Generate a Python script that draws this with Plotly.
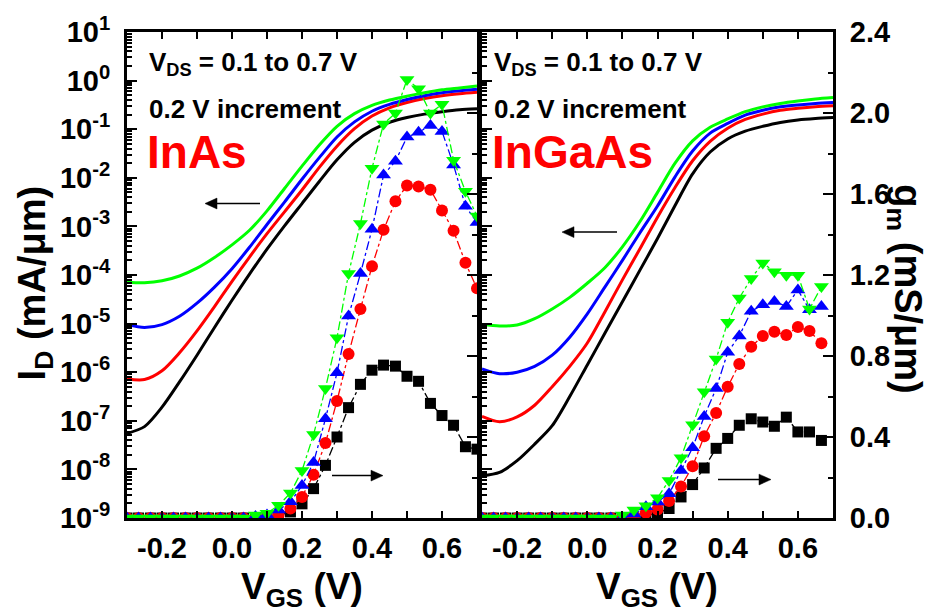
import numpy as np
import plotly.graph_objects as go

# ---------------- data ----------------
vgs = [-0.30, -0.25, -0.20, -0.15, -0.10, -0.05, 0.00, 0.05, 0.10, 0.15, 0.20,
       0.25, 0.30, 0.35, 0.40, 0.45, 0.50, 0.55, 0.60, 0.65, 0.70]

# log10(I_D [mA/um]) for VDS = 0.1, 0.3, 0.5, 0.7 V
inas_logid_01 = [-7.26, -7.12, -6.72, -6.20, -5.65, -5.08, -4.52, -3.98, -3.47, -2.99, -2.53,
                 -2.07, -1.63, -1.27, -1.02, -0.86, -0.76, -0.69, -0.64, -0.60, -0.58]
inas_logid_03 = [-6.14, -6.15, -5.97, -5.60, -5.15, -4.65, -4.13, -3.63, -3.15, -2.70, -2.25,
                 -1.78, -1.35, -0.99, -0.73, -0.56, -0.45, -0.37, -0.31, -0.27, -0.24]
inas_logid_05 = [-5.02, -5.08, -5.02, -4.85, -4.58, -4.25, -3.87, -3.43, -2.96, -2.50, -2.03,
                 -1.58, -1.16, -0.85, -0.63, -0.49, -0.39, -0.31, -0.25, -0.21, -0.18]
inas_logid_07 = [-4.15, -4.16, -4.12, -4.02, -3.86, -3.64, -3.38, -3.08, -2.68, -2.22, -1.76,
                 -1.32, -0.94, -0.68, -0.51, -0.40, -0.32, -0.25, -0.19, -0.15, -0.11]

ingaas_logid_01 = [-8.13, -8.06, -7.82, -7.48, -7.10, -6.50, -5.85, -5.20, -4.55, -3.90, -3.25,
                   -2.57, -1.92, -1.47, -1.20, -1.04, -0.94, -0.86, -0.81, -0.78, -0.76]
ingaas_logid_03 = [-6.91, -7.02, -6.92, -6.68, -6.30, -5.88, -5.40, -4.76, -4.10, -3.46, -2.81,
                   -2.20, -1.65, -1.25, -0.98, -0.80, -0.69, -0.61, -0.57, -0.54, -0.52]
ingaas_logid_05 = [-5.93, -6.03, -6.00, -5.88, -5.65, -5.28, -4.80, -4.25, -3.70, -3.13, -2.58,
                   -1.98, -1.45, -1.08, -0.88, -0.71, -0.61, -0.54, -0.50, -0.47, -0.45]
ingaas_logid_07 = [-5.02, -5.05, -5.03, -4.90, -4.70, -4.46, -4.17, -3.85, -3.42, -2.90, -2.30,
                   -1.70, -1.24, -0.96, -0.79, -0.64, -0.54, -0.47, -0.42, -0.38, -0.35]

vgs_gm = [-0.300, -0.267, -0.233, -0.200, -0.167, -0.133, -0.100, -0.067, -0.033, 0.000,
          0.033, 0.067, 0.100, 0.133, 0.167, 0.200, 0.233, 0.267, 0.300, 0.333,
          0.367, 0.400, 0.433, 0.467, 0.500, 0.533, 0.567, 0.600, 0.633, 0.667, 0.700]

# gm [mS/um]
inas_gm_01 = [0, 0, 0, 0, 0, 0, 0, 0, 0, 0, 0, 0, 0.005, 0.012, 0.03, 0.07, 0.145, 0.26, 0.40, 0.545,
              0.66, 0.73, 0.755, 0.75, 0.70, 0.675, 0.566, 0.506, 0.458, 0.352, 0.34]
inas_gm_03 = [0, 0, 0, 0, 0, 0, 0, 0, 0, 0, 0, 0, 0.005, 0.015, 0.047, 0.104, 0.214, 0.37, 0.578, 0.81,
              1.032, 1.243, 1.423, 1.564, 1.642, 1.637, 1.621, 1.519, 1.418, 1.26, 1.134]
inas_gm_05 = [0, 0, 0, 0, 0, 0, 0, 0, 0, 0, 0, 0.008, 0.015, 0.04, 0.08, 0.16, 0.274, 0.49, 0.717, 0.997,
              1.207, 1.426, 1.694, 1.762, 1.881, 1.905, 1.938, 1.909, 1.743, 1.54, 1.459]
inas_gm_07 = [0, 0, 0, 0, 0, 0, 0, 0, 0, 0, 0, 0.015, 0.023, 0.063, 0.123, 0.234, 0.412, 0.64, 0.89, 1.207,
              1.454, 1.727, 1.946, 2.0, 2.165, 2.12, 2.0, 2.043, 1.767, 1.613, 1.491]

ingaas_gm_01 = [0, 0, 0, 0, 0, 0, 0, 0, 0, 0, 0, 0, 0, 0, 0.01, 0.025, 0.047, 0.104, 0.165, 0.247,
                0.344, 0.393, 0.458, 0.49, 0.474, 0.453, 0.498, 0.425, 0.425, 0.383]
ingaas_gm_03 = [0, 0, 0, 0, 0, 0, 0, 0, 0, 0, 0, 0, 0, 0.01, 0.026, 0.042, 0.084, 0.156, 0.255, 0.404,
                0.518, 0.648, 0.761, 0.846, 0.899, 0.92, 0.904, 0.943, 0.923, 0.863]
ingaas_gm_05 = [0, 0, 0, 0, 0, 0, 0, 0, 0, 0, 0, 0, 0, 0.02, 0.055, 0.079, 0.12, 0.234, 0.347, 0.501,
                0.639, 0.818, 0.899, 1.021, 1.053, 1.069, 1.045, 1.126, 1.029, 1.045]
ingaas_gm_07 = [0, 0, 0, 0, 0, 0, 0, 0, 0, 0, 0, 0, 0.015, 0.039, 0.06, 0.10, 0.185, 0.298, 0.461, 0.623,
                0.785, 0.967, 1.086, 1.183, 1.259, 1.216, 1.199, 1.199, 1.032, 1.143]

colors = ["#000000", "#ff0000", "#0000ff", "#00ff00"]
symbols = ["square", "circle", "triangle-up", "triangle-down"]
msizes = [11, 12, 13, 13]

x_tickvals = [-0.2, 0.0, 0.2, 0.4, 0.6]
x_ticktext = ["-0.2", "0.0", "0.2", "0.4", "0.6"]
x_minor = [-0.1, 0.1, 0.3, 0.5]
y_log_exps = [-9, -8, -7, -6, -5, -4, -3, -2, -1, 0, 1]
gm_tickvals = [0.0, 0.4, 0.8, 1.2, 1.6, 2.0, 2.4]
gm_ticktext = ["0.0", "0.4", "0.8", "1.2", "1.6", "2.0", "2.4"]
gm_minor = [0.2, 0.6, 1.0, 1.4, 1.8, 2.2]

# ---------------- figure ----------------
fig = go.Figure()

panels = [
    ("x", "y", "y2", [inas_logid_01, inas_logid_03, inas_logid_05, inas_logid_07],
     [inas_gm_01, inas_gm_03, inas_gm_05, inas_gm_07]),
    ("x2", "y3", "y4", [ingaas_logid_01, ingaas_logid_03, ingaas_logid_05, ingaas_logid_07],
     [ingaas_gm_01, ingaas_gm_03, ingaas_gm_05, ingaas_gm_07]),
]

for xa, ya_id, ya_gm, ids, gms in panels:
    for i, lid in enumerate(ids):
        fig.add_trace(go.Scatter(x=vgs, y=10 ** np.array(lid), mode="lines",
                                 line=dict(color=colors[i], width=3, shape="spline", smoothing=0.8),
                                 xaxis=xa, yaxis=ya_id, showlegend=False))
    for i, g in enumerate(gms):
        fig.add_trace(go.Scatter(x=vgs_gm[:len(g)], y=g, mode="lines+markers",
                                 line=dict(color=colors[i], width=1.3, dash="dashdot"),
                                 marker=dict(symbol=symbols[i], size=msizes[i], color=colors[i],
                                             line=dict(width=0)),
                                 xaxis=xa, yaxis=ya_gm, showlegend=False))

L, R, T, B = 127, 108, 25, 98
W, H = 941, 616
PW = W - L - R
PH = H - T - B


def px(xp):
    return (xp - L) / PW


def py(yp):
    return (H - B - yp) / PH


tickfont = dict(family="Liberation Sans, Arial", size=29, color="black", weight="bold")
minor_log = [m * 10.0 ** e for e in range(-9, 1) for m in range(2, 10)]

xcommon = dict(range=[-0.3, 0.7], tickmode="array", tickvals=x_tickvals, ticktext=x_ticktext,
               ticks="inside", ticklen=7, tickwidth=2, tickcolor="black",
               minor=dict(tickmode="array", tickvals=x_minor, ticks="inside", ticklen=7,
                          tickwidth=2, tickcolor="black"),
               showline=True, linewidth=3, linecolor="black", mirror="ticks",
               showgrid=False, zeroline=False, tickfont=tickfont, ticklabelstandoff=2)
ylogcommon = dict(type="log", range=[-9, 1], tickmode="array",
                  tickvals=[10.0 ** e for e in y_log_exps],
                  ticktext=["10<sup>%d</sup>" % e for e in y_log_exps],
                  ticks="inside", ticklen=10, tickwidth=2, tickcolor="black",
                  minor=dict(tickmode="array", tickvals=minor_log, ticks="inside", ticklen=5,
                             tickwidth=1.5, tickcolor="black"),
                  showline=True, linewidth=3, linecolor="black",
                  showgrid=False, zeroline=False, tickfont=tickfont)
ygmcommon = dict(range=[0, 2.4], tickmode="array", tickvals=gm_tickvals, ticktext=gm_ticktext,
                 ticks="inside", ticklen=10, tickwidth=2, tickcolor="black",
                 minor=dict(tickmode="array", tickvals=gm_minor,
                            ticks="inside", ticklen=5, tickwidth=2, tickcolor="black"),
                 showline=True, linewidth=3, linecolor="black",
                 showgrid=False, zeroline=False, tickfont=tickfont, side="right")

d1 = (477 - L) / PW
d2 = (482 - L) / PW

fig.update_layout(
    width=W, height=H, margin=dict(l=L, r=R, t=T, b=B),
    plot_bgcolor="white", paper_bgcolor="white", showlegend=False,
    xaxis=dict(domain=[0, d1], anchor="y", **xcommon),
    xaxis2=dict(domain=[d2, 1], anchor="y3", **xcommon),
    yaxis=dict(domain=[0, 1], anchor="x", showticklabels=True, ticklabelstandoff=8, **ylogcommon),
    yaxis2=dict(anchor="x", overlaying="y", showticklabels=False, **ygmcommon),
    yaxis3=dict(domain=[0, 1], anchor="x2", showticklabels=False, **ylogcommon),
    yaxis4=dict(anchor="x2", overlaying="y3", showticklabels=True, ticklabelstandoff=8, **ygmcommon),
)

bold = dict(family="Liberation Sans, Arial", color="black", weight="bold")
ann = []
for x0, name in [(147, "InAs"), (492, "InGaAs")]:
    ann.append(dict(x=px(x0), y=py(57), xref="paper", yref="paper", xanchor="left", yanchor="middle",
                    text="V<sub>DS</sub> = 0.1 to 0.7 V", showarrow=False, font=dict(size=26, **bold)))
    ann.append(dict(x=px(x0), y=py(103), xref="paper", yref="paper", xanchor="left", yanchor="middle",
                    text="0.2 V increment", showarrow=False, font=dict(size=26, **bold)))
    ann.append(dict(x=px(x0 - 2), y=py(147), xref="paper", yref="paper", xanchor="left", yanchor="middle",
                    text=name, showarrow=False,
                    font=dict(family="Liberation Sans Narrow, Arial Narrow, Liberation Sans",
                              size=46, color="#ff0000", weight="bold")))

# axis titles
ann.append(dict(x=px(35), y=py(280), xref="paper", yref="paper", xanchor="center", yanchor="middle",
                text="I<sub>D</sub> (mA/μm)", textangle=-90, showarrow=False, font=dict(size=38, **bold)))
ann.append(dict(x=px(905), y=py(285), xref="paper", yref="paper", xanchor="center", yanchor="middle",
                text="g<sub>m</sub> (mS/μm)", textangle=90, showarrow=False, font=dict(size=38, **bold)))
for xc in [302, 657]:
    ann.append(dict(x=px(xc), y=py(590), xref="paper", yref="paper", xanchor="center", yanchor="middle",
                    text="V<sub>GS</sub> (V)", showarrow=False, font=dict(size=37, **bold)))

fig.update_layout(annotations=ann)

# arrows drawn as shapes (shaft + filled head)
shapes = []
HEAD = 12
HALF = 5.5
for (hx, hy, tx) in [(205, 199, 260), (383, 475, 332), (562, 228, 617), (771, 479, 718)]:
    sgn = 1 if tx > hx else -1
    base = hx + sgn * HEAD
    shapes.append(dict(type="line", xref="paper", yref="paper",
                       x0=px(tx), y0=py(hy), x1=px(base), y1=py(hy),
                       line=dict(color="black", width=1.5)))
    path = "M %f,%f L %f,%f L %f,%f Z" % (px(hx), py(hy), px(base), py(hy - HALF), px(base), py(hy + HALF))
    shapes.append(dict(type="path", xref="paper", yref="paper", path=path,
                       fillcolor="black", line=dict(color="black", width=0.5)))
fig.update_layout(shapes=shapes)

fig.write_html("out.html")
